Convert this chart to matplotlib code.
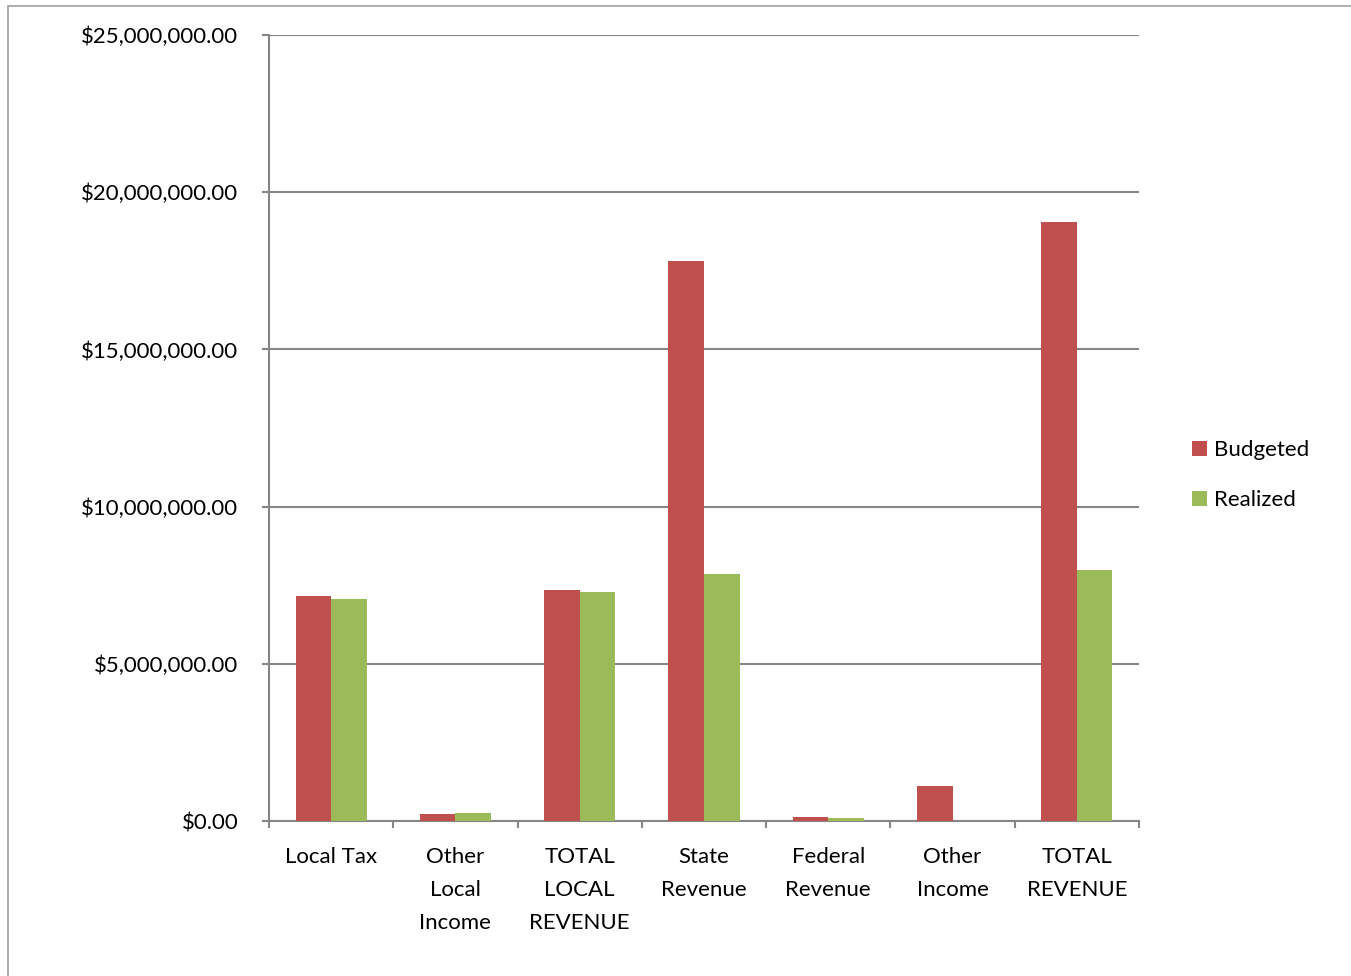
import matplotlib.pyplot as plt
import numpy as np
from matplotlib.patches import Rectangle
from matplotlib.ticker import FuncFormatter

plt.rcParams["font.family"] = ["Lato", "DejaVu Sans"]

categories = ["Local Tax", "Other\nLocal\nIncome", "TOTAL\nLOCAL\nREVENUE", "State\nRevenue",
              "Federal\nRevenue", "Other\nIncome", "TOTAL\nREVENUE"]
budgeted = [7160000, 220000, 7350000, 17820000, 130000, 1120000, 19060000]
realized = [7050000, 250000, 7280000, 7870000, 100000, 0, 7990000]

RED = "#C0504D"
GREEN = "#9BBB59"
GRID = "#868686"
FS = 16

fig = plt.figure(figsize=(13.51, 9.76), dpi=100)
# outer chart border (only top/left visible in the reference)
fig.patches.append(Rectangle((8 / 1351, -0.1), 1.2, 1 - 6 / 976 + 0.1, transform=fig.transFigure,
                             fill=False, edgecolor="#A0A0A0", linewidth=1.2))
ax = fig.add_axes([269 / 1351, 1 - 821 / 976, 870 / 1351, 786 / 976])

x = np.arange(len(categories))
w = 0.286
ax.bar(x - w / 2, budgeted, w, color=RED, label="Budgeted", zorder=3)
ax.bar(x + w / 2, realized, w, color=GREEN, label="Realized", zorder=3)

ax.set_xlim(-0.5, len(categories) - 0.5)
ax.set_ylim(0, 25000000)
ax.set_yticks(np.arange(0, 25000001, 5000000))
ax.yaxis.set_major_formatter(FuncFormatter(lambda v, _: f"${v:,.2f}"))
ax.yaxis.grid(True, color=GRID, linewidth=1.5, zorder=0)

ax.set_xticks(x)
ax.set_xticklabels(categories, linespacing=1.83)
ax.set_xticks(np.arange(-0.5, len(categories)), minor=True)
ax.tick_params(axis="x", which="major", length=0, pad=18.5)
ax.tick_params(axis="x", which="minor", length=5, width=1.5, color=GRID)
ax.tick_params(axis="y", length=5, width=1.5, color=GRID, pad=17)
ax.tick_params(labelsize=FS)

for s in ["top", "right"]:
    ax.spines[s].set_visible(False)
for s in ["left", "bottom"]:
    ax.spines[s].set_color(GRID)
    ax.spines[s].set_linewidth(1.5)

ax.legend(loc="center left", bbox_to_anchor=(1.038, 0.440), frameon=False, fontsize=FS,
          handlelength=0.68, handleheight=0.68, handletextpad=0.32, labelspacing=1.36)

fig.savefig("out.png", dpi=100)
